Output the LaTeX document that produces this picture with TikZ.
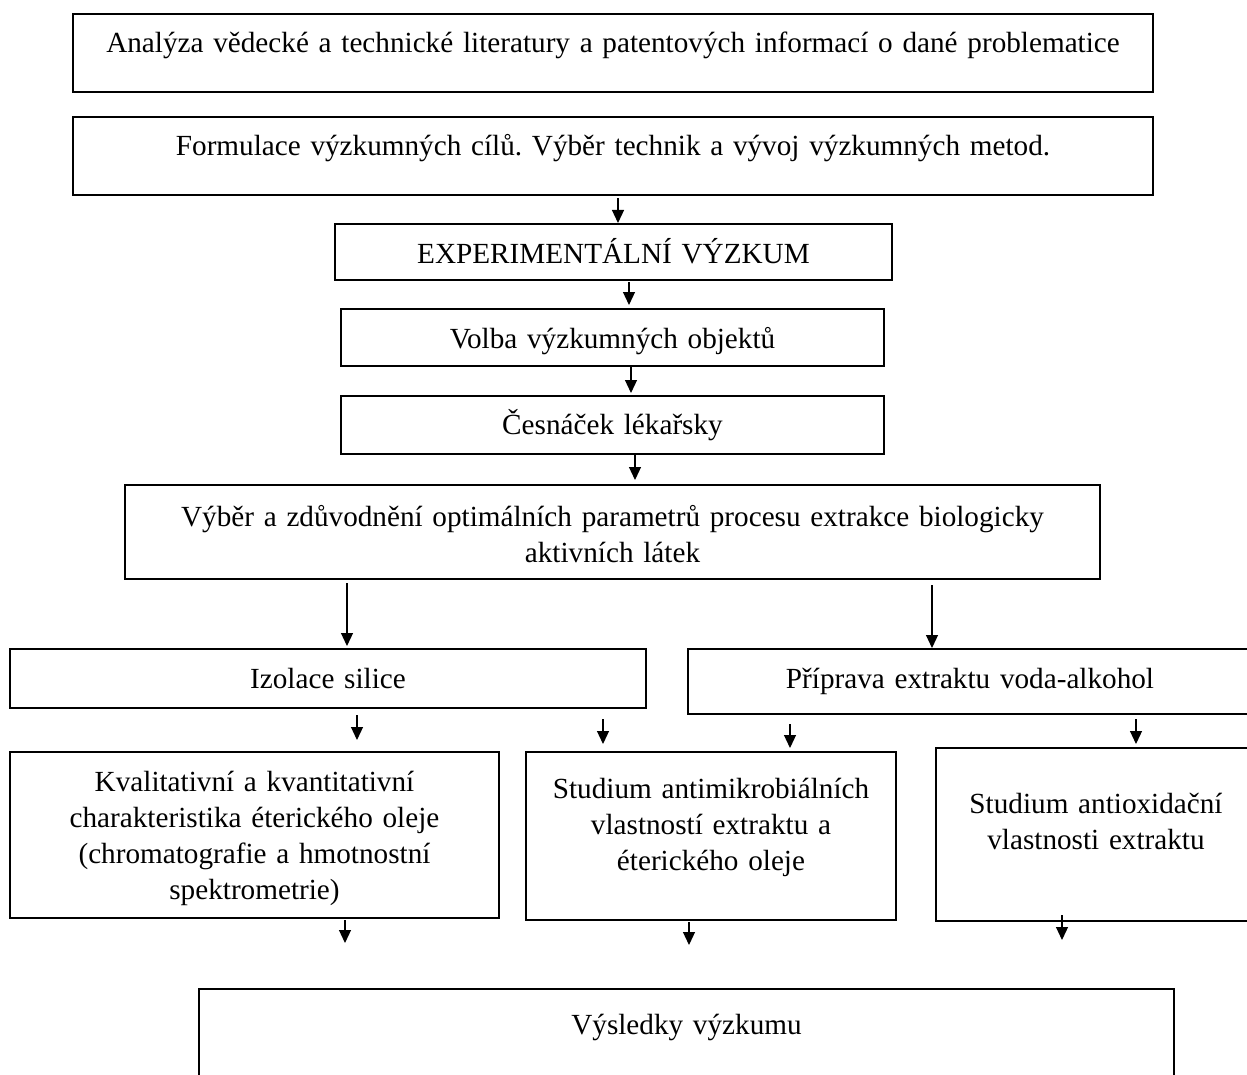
\documentclass[tikz,border=0pt]{standalone}
\usepackage{fontspec}
\setmainfont[WordSpace=0.75]{Liberation Serif}
\usetikzlibrary{arrows.meta}
\frenchspacing

\begin{document}
\begin{tikzpicture}[x=0.5pt, y=-0.5pt,
    font=\fontsize{14.6pt}{18pt}\selectfont,
    blok/.style={draw, line width=1.1pt, inner sep=0pt, align=center, anchor=north},
    sipka/.style={-{Triangle[length=6.5pt,width=6pt]}, line width=0.6pt}]
  \useasboundingbox (0,0) rectangle (1247,1075);
  \clip (0,0) rectangle (1247,1075);

  \node[blok, text width=540pt, text height=19pt, text depth=20pt] (rozbor) at (613,13)
    {Analýza vědecké a technické literatury a patentových informací o dané problematice};
  \node[blok, text width=540pt, text height=19pt, text depth=20pt] (cile) at (613,116)
    {Formulace výzkumných cílů. Výběr technik a vývoj výzkumných metod.};
  \node[blok, text width=278.5pt, text height=19.5pt, text depth=8.5pt] (exper) at (613.5,223)
    {EXPERIMENTÁLNÍ VÝZKUM};
  \node[blok, text width=271.5pt, text height=19.5pt, text depth=9pt] (objekty) at (612.5,308)
    {Volba výzkumných objektů};
  \node[blok, text width=271.5pt, text height=19pt, text depth=10pt] (cesnek) at (612.5,395)
    {Česnáček lékařsky};
  \node[blok, text width=487.5pt, text height=20.5pt, text depth=26.5pt] (extrakce) at (612.5,484)
    {Výběr a zdůvodnění optimálních parametrů procesu extrakce biologicky\\aktivních látek};

  \node[blok, text width=318pt, text height=19.5pt, text depth=10pt] (silice) at (328,648)
    {Izolace silice};
  \node[blok, text width=282pt, text height=19.5pt, text depth=13pt] (vyluh) at (970,648)
    {Příprava extraktu voda-alkohol};

  \node[blok, text width=244.5pt, text height=19.5pt, text depth=63.5pt] (kvalita) at (254.5,751)
    {Kvalitativní a kvantitativní\\charakteristika éterického oleje\\(chromatografie a hmotnostní\\spektrometrie)};
  \node[blok, text width=185pt, text height=23pt, text depth=61pt] (mikro) at (711,751)
    {Studium antimikrobiálních\\vlastností extraktu a\\éterického oleje};
  \node[blok, text width=160pt, text height=32.5pt, text depth=54pt] (oxid) at (1096,747)
    {Studium antioxidační\\vlastnosti extraktu};

  \node[blok, text width=487.5pt, text height=22.5pt, text depth=27.5pt] (vysledky) at (686.5,988)
    {Výsledky výzkumu};

  % sipky: x / odkud / kam / zkraceni zacatku / zkraceni konce
  \foreach \x/\zdroj/\cil/\a/\b in {618/cile/exper/1/0, 629/exper/objekty/0.5/1.5,
      631/objekty/cesnek/0/1, 635/cesnek/extrakce/0/2,
      347/extrakce/silice/1.5/1, 932/extrakce/vyluh/2.5/0,
      357/silice/kvalita/3/5.5, 603/silice/mikro/5/3.5,
      790/vyluh/mikro/4.5/1.5, 1136/vyluh/oxid/2/1.5,
      345/kvalita/vysledky/0.5/22.5, 689/mikro/vysledky/0.5/21.5,
      1062/oxid/vysledky/-3.5/24}
  {
    \coordinate (k) at (\x,0);
    \draw[sipka, shorten <=\a pt, shorten >=\b pt] (\zdroj.south -| k) -- (\cil.north -| k);
  }
\end{tikzpicture}
\end{document}
